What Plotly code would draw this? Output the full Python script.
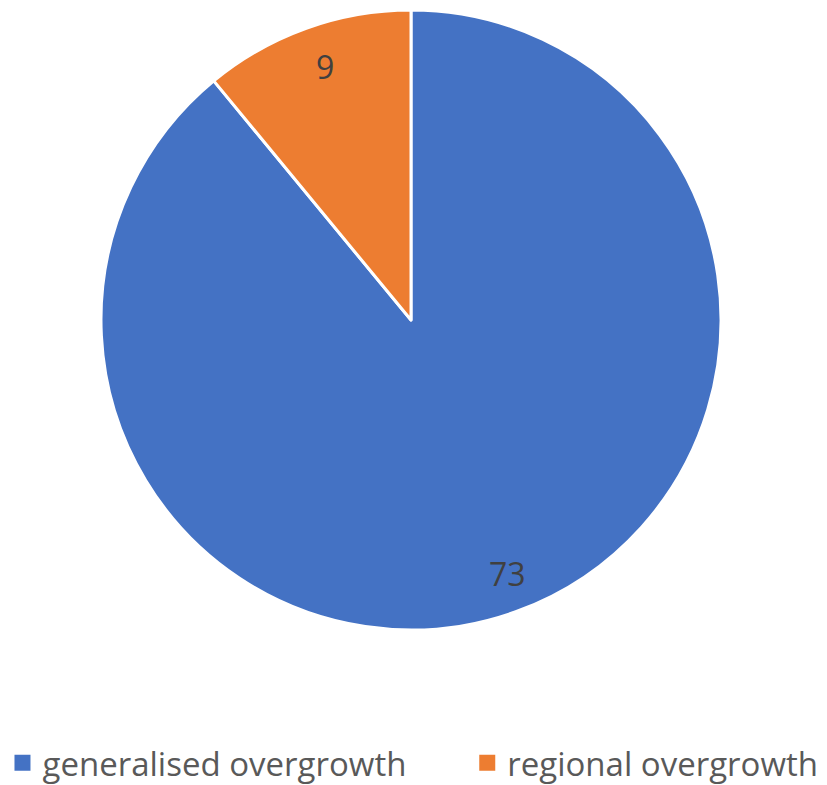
import math
import plotly.graph_objects as go

categories = ["generalised overgrowth", "regional overgrowth"]
counts = [73, 9]
colors = ["#4472C4", "#ED7D31"]

fig = go.Figure(
    go.Pie(
        labels=categories,
        values=counts,
        sort=False,
        direction="clockwise",
        rotation=0,
        marker=dict(colors=colors, line=dict(color="white", width=3)),
        textinfo="none",
        hoverinfo="label+value",
        domain=dict(x=[0, 1], y=[0, 1]),
        showlegend=False,
    )
)

# legend keys: one square marker per category, each in its own legend box
legend_names = ["legend", "legend2"]
legend_x = [0.003, 0.565]
for name, color, lg in zip(categories, colors, legend_names):
    fig.add_trace(
        go.Scatter(
            x=[None],
            y=[None],
            mode="markers",
            name=name,
            marker=dict(symbol="square", size=16, color=color),
            legend=lg,
            showlegend=True,
            hoverinfo="skip",
        )
    )

# value labels along each slice's mid-angle, near the outer edge
total = sum(counts)
start = 0.0
annotations = []
for v in counts:
    mid = (start + v / 2) / total * 2 * math.pi
    r = 0.435
    annotations.append(
        dict(
            x=0.5 + r * math.sin(mid) + 0.008,
            y=0.5 + r * math.cos(mid),
            xref="paper",
            yref="paper",
            xanchor="center",
            yanchor="middle",
            text=str(v),
            showarrow=False,
            font=dict(family="Open Sans", size=32, color="#404040"),
        )
    )
    start += v

legend_style = dict(
    orientation="h",
    xref="container",
    yref="container",
    xanchor="left",
    y=0.064,
    yanchor="top",
    font=dict(family="Open Sans", size=33, color="#595959"),
    itemwidth=30,
    bgcolor="rgba(0,0,0,0)",
)

fig.update_layout(
    width=827,
    height=785,
    margin=dict(l=101, r=106, t=10, b=155),
    paper_bgcolor="white",
    plot_bgcolor="white",
    annotations=annotations,
    showlegend=True,
    legend=dict(x=legend_x[0], **legend_style),
    legend2=dict(x=legend_x[1], **legend_style),
)
fig.update_xaxes(visible=False)
fig.update_yaxes(visible=False)

fig.write_html("out.html")
